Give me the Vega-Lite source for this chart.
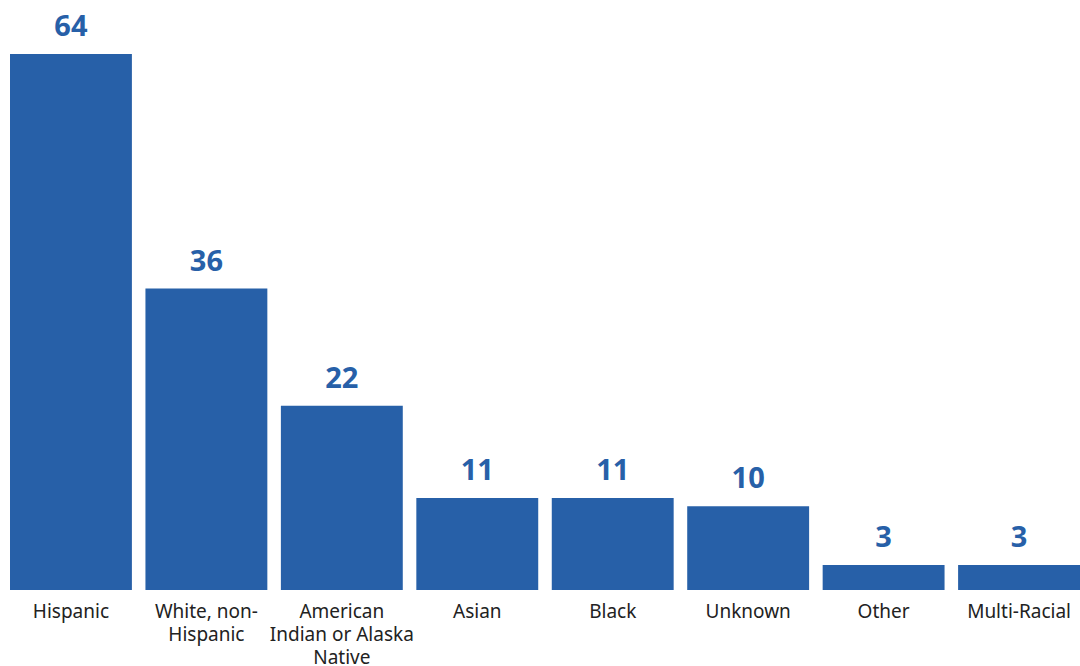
{
  "$schema": "https://vega.github.io/schema/vega-lite/v6.json",
  "autosize": "none",
  "width": 1070,
  "height": 536,
  "padding": {"left": 10, "top": 54, "right": 0, "bottom": 76},
  "background": "white",
  "config": {"view": {"stroke": null}, "font": "Noto Sans"},
  "data": {
    "values": [
      {"group": "Hispanic", "count": 64},
      {"group": "White, non-Hispanic", "count": 36},
      {"group": "American Indian or Alaska Native", "count": 22},
      {"group": "Asian", "count": 11},
      {"group": "Black", "count": 11},
      {"group": "Unknown", "count": 10},
      {"group": "Other", "count": 3},
      {"group": "Multi-Racial", "count": 3}
    ]
  },
  "encoding": {
    "x": {
      "field": "group",
      "type": "nominal",
      "sort": null,
      "scale": {"paddingInner": 0.1, "paddingOuter": 0},
      "axis": {
        "title": null,
        "domain": false,
        "ticks": false,
        "labelAngle": 0,
        "labelFontSize": 19,
        "labelColor": "#222222",
        "labelPadding": 12,
        "labelLineHeight": 23,
        "labelFont": "Noto Sans",
        "labelExpr": "datum.value == 'White, non-Hispanic' ? ['White, non-', 'Hispanic'] : datum.value == 'American Indian or Alaska Native' ? ['American', 'Indian or Alaska', 'Native'] : datum.value"
      }
    },
    "y": {
      "field": "count",
      "type": "quantitative",
      "scale": {"domain": [0, 64], "nice": false},
      "axis": null
    }
  },
  "layer": [
    {"mark": {"type": "bar", "color": "#2760A8"}},
    {
      "mark": {
        "type": "text",
        "baseline": "alphabetic",
        "dy": -18,
        "fontSize": 29,
        "fontWeight": "bold",
        "color": "#2760A8",
        "font": "Noto Sans"
      },
      "encoding": {"text": {"field": "count", "type": "quantitative"}}
    }
  ]
}
